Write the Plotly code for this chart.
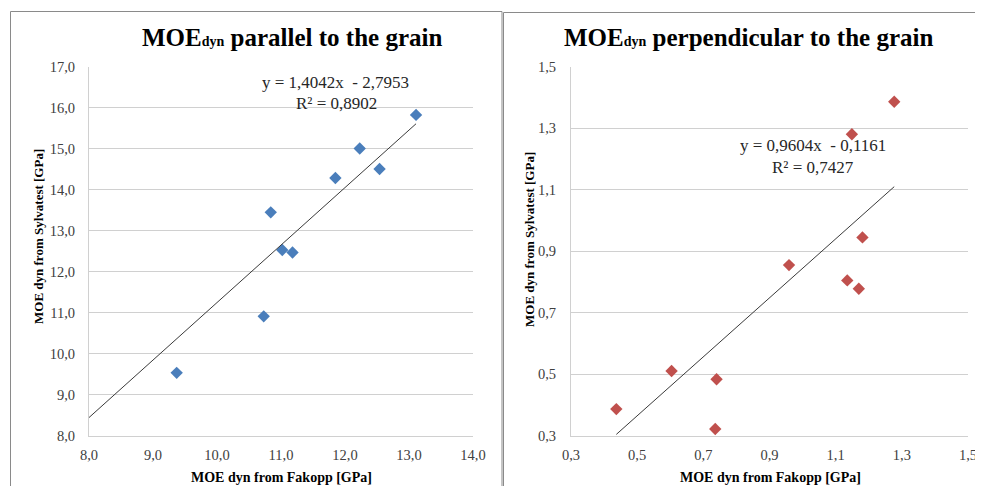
import plotly.graph_objects as go

# ---------------- data ----------------
par_fakopp = [9.37, 10.73, 10.84, 11.02, 11.18, 11.85, 12.23, 12.54, 13.11]
par_sylvatest = [9.53, 10.91, 13.45, 12.53, 12.47, 14.29, 15.01, 14.51, 15.83]
par_slope, par_intercept = 1.4042, -2.7953
par_trend_x = [8.0, 13.11]
par_eq = "y = 1,4042x  - 2,7953"
par_r2 = "R² = 0,8902"

per_fakopp = [0.437, 0.604, 0.736, 0.740, 0.959, 1.135, 1.149, 1.170, 1.181, 1.277]
per_sylvatest = [0.386, 0.510, 0.321, 0.483, 0.855, 0.805, 1.281, 0.778, 0.945, 1.387]
per_slope, per_intercept = 0.9604, -0.1161
per_trend_x = [0.437, 1.277]
per_eq = "y = 0,9604x  - 0,1161"
per_r2 = "R² = 0,7427"

par_xticks = [8.0, 9.0, 10.0, 11.0, 12.0, 13.0, 14.0]
par_xticktext = ["8,0", "9,0", "10,0", "11,0", "12,0", "13,0", "14,0"]
par_yticks = [8.0, 9.0, 10.0, 11.0, 12.0, 13.0, 14.0, 15.0, 16.0, 17.0]
par_yticktext = ["8,0", "9,0", "10,0", "11,0", "12,0", "13,0", "14,0", "15,0", "16,0", "17,0"]
per_ticks = [0.3, 0.5, 0.7, 0.9, 1.1, 1.3, 1.5]
per_ticktext = ["0,3", "0,5", "0,7", "0,9", "1,1", "1,3", "1,5"]

title_par = "MOE<span style='font-size:14px'>dyn</span> parallel to the grain"
title_per = "MOE<span style='font-size:14px'>dyn</span> perpendicular to the grain"
xtitle = "MOE dyn from Fakopp [GPa]"
ytitle = "MOE dyn from Sylvatest [GPa]"

# ---------------- figure ----------------
# the page body keeps its default 8px margin
OFF = 8
W, H = 983 - OFF, 494 - 2 * OFF
FONT = "Liberation Serif"
BLUE = "#4a7ebb"
RED = "#c0504d"
GRID = "#d0d0d0"
FRAME = "#8a8a8a"


def px(x):
    return min(max((x - OFF) / W, 0), 1)


def py(y):
    return min(max(1 - (y - OFF) / H, 0), 1)


fig = go.Figure()

fig.add_trace(go.Scatter(x=par_fakopp, y=par_sylvatest, mode="markers",
                         marker=dict(symbol="diamond", size=9.5, color=BLUE),
                         xaxis="x", yaxis="y", showlegend=False))
fig.add_trace(go.Scatter(x=par_trend_x, y=[par_slope * v + par_intercept for v in par_trend_x],
                         mode="lines", line=dict(color="#3a3a3a", width=1),
                         xaxis="x", yaxis="y", showlegend=False))
fig.add_trace(go.Scatter(x=per_fakopp, y=per_sylvatest, mode="markers",
                         marker=dict(symbol="diamond", size=9.5, color=RED),
                         xaxis="x2", yaxis="y2", showlegend=False))
fig.add_trace(go.Scatter(x=per_trend_x, y=[per_slope * v + per_intercept for v in per_trend_x],
                         mode="lines", line=dict(color="#3a3a3a", width=1),
                         xaxis="x2", yaxis="y2", showlegend=False))

ydom = [py(435.5), py(67)]
tickfont = dict(family=FONT, size=14.5, color="#404040")

common_x = dict(showgrid=False, zeroline=False, showline=True, linecolor=GRID, linewidth=1,
                ticks="outside", tickcolor="rgba(0,0,0,0)", tickfont=tickfont,
                automargin=False, ticklabeloverflow="allow")
common_y = dict(showgrid=True, gridcolor=GRID, gridwidth=1, zeroline=False, showline=True,
                linecolor=GRID, linewidth=1, ticks="outside", tickcolor="rgba(0,0,0,0)",
                tickfont=tickfont, automargin=False, ticklabeloverflow="allow")


def vline(x, y0, y1):
    return dict(type="line", xref="paper", yref="paper", x0=x, x1=x, y0=y0, y1=y1,
                line=dict(color=FRAME, width=1))


def hline(x0, x1, y):
    return dict(type="line", xref="paper", yref="paper", x0=x0, x1=x1, y0=y, y1=y,
                line=dict(color=FRAME, width=1))


fig.update_layout(
    width=W, height=H, margin=dict(l=0, r=0, t=0, b=0),
    paper_bgcolor="white", plot_bgcolor="white",
    xaxis=dict(domain=[px(89), px(473)], range=[8.0, 14.0], tickvals=par_xticks,
               ticktext=par_xticktext, ticklen=6, anchor="y", **common_x),
    yaxis=dict(domain=ydom, range=[8.0, 17.0], tickvals=par_yticks,
               ticktext=par_yticktext, ticklen=10, anchor="x", **common_y),
    xaxis2=dict(domain=[px(571), px(968)], range=[0.3, 1.5], tickvals=per_ticks,
                ticktext=per_ticktext, ticklen=6, anchor="y2", **common_x),
    yaxis2=dict(domain=ydom, range=[0.3, 1.5], tickvals=per_ticks,
                ticktext=per_ticktext, ticklen=11, anchor="x2", **common_y),
    shapes=[
        vline(px(10.5), 0, py(11.5)),
        hline(px(10.5), px(502), py(11.5)),
        vline(px(502), 0, py(11.5)),
        vline(px(503.5), 0, py(12.5)),
        hline(px(503.5), 1, py(12.5)),
    ],
)

ann = []
tfont = dict(family=FONT, size=25, color="black")
ann.append(dict(text="<b>" + title_par + "</b>", x=px(292), y=py(37), xref="paper", yref="paper",
                showarrow=False, font=tfont, xanchor="center", yanchor="middle"))
ann.append(dict(text="<b>" + title_per + "</b>", x=px(748), y=py(37), xref="paper", yref="paper",
                showarrow=False, font=tfont, xanchor="center", yanchor="middle"))
afont = dict(family=FONT, size=14, color="black")
yfont = dict(family=FONT, size=13, color="black")
for cx, cy in [(281, 477), (770, 477)]:
    ann.append(dict(text="<b>" + xtitle + "</b>", x=px(cx), y=py(cy), xref="paper", yref="paper",
                    showarrow=False, font=afont, xanchor="center", yanchor="middle"))
for cx, cy in [(38, 237), (530, 240)]:
    ann.append(dict(text="<b>" + ytitle + "</b>", x=px(cx), y=py(cy), xref="paper", yref="paper",
                    showarrow=False, font=yfont, textangle=-90, xanchor="center", yanchor="middle"))
efont = dict(family=FONT, size=17, color="#262626")
ann.append(dict(text=par_eq, x=px(335), y=py(82), xref="paper", yref="paper",
                showarrow=False, font=efont, xanchor="center", yanchor="middle"))
ann.append(dict(text=par_r2, x=px(336), y=py(103), xref="paper", yref="paper",
                showarrow=False, font=efont, xanchor="center", yanchor="middle"))
ann.append(dict(text=per_eq, x=px(813), y=py(145), xref="paper", yref="paper",
                showarrow=False, font=efont, xanchor="center", yanchor="middle"))
ann.append(dict(text=per_r2, x=px(813), y=py(167), xref="paper", yref="paper",
                showarrow=False, font=efont, xanchor="center", yanchor="middle"))
fig.update_layout(annotations=ann)

fig.write_html("out.html", config={"displayModeBar": False})
